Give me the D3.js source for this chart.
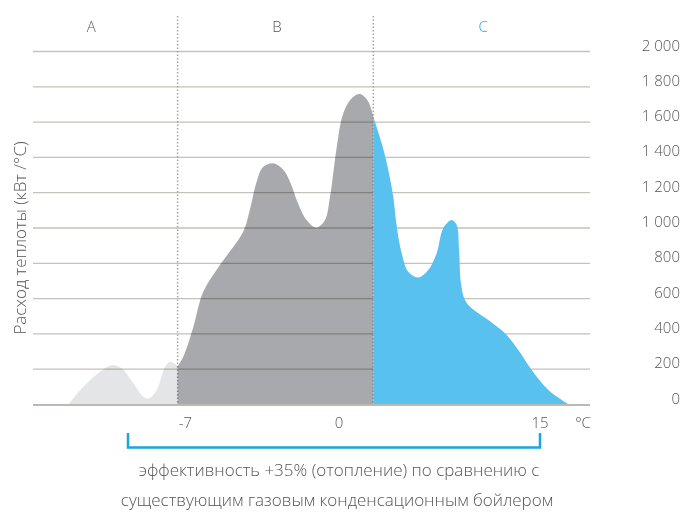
<!DOCTYPE html>
<html>
<head>
<meta charset="utf-8">
<script src="https://cdn.jsdelivr.net/npm/d3@7"></script>
<style>
  body { margin: 0; background: #fff; }
  text { font-family: "Open Sans", "Noto Sans", sans-serif; font-weight: 300; fill: #555; }
</style>
</head>
<body>
<script>
// zone A (light grey), temperature in °C and heat demand
var tempsA = [-12.34, -11.66, -10.90, -10.36, -9.91, -9.38, -8.92, -8.66, -8.31, -7.93, -7.71, -7.48, -7.36];
var loadA  = [0, 101, 186, 224, 205, 120, 44, 35, 82, 214, 242, 229, 218];

// zone B (grey)
var tempsB = [-7.36, -7.10, -6.64, -6.19, -5.43, -4.37, -4.07, -3.76, -3.46, -3.00, -2.54, -2.16, -1.93, -1.48, -1.02, -0.64, -0.41, -0.10, 0.32, 0.95, 1.57, 2.19, 2.56];
var loadB  = [218, 271, 441, 639, 790, 979, 1100, 1260, 1345, 1367, 1330, 1240, 1159, 1045, 1002, 1045, 1177, 1461, 1650, 1735, 1759, 1716, 1631];

// zone C (blue)
var tempsC = [2.56, 3.19, 3.68, 4.05, 4.31, 4.68, 5.17, 5.92, 6.66, 7.29, 7.78, 8.41, 8.78, 8.96, 9.10, 9.40, 9.90, 11.14, 12.39, 13.38, 14.38, 15.62, 17.16];
var loadC  = [1631, 1480, 1329, 1177, 1008, 857, 752, 720, 762, 857, 998, 1045, 1017, 875, 687, 592, 545, 479, 403, 309, 195, 82, 0];

var zoneNames  = ["A", "B", "C"];
var zoneBounds = [-7.36, 2.56];
var xTicks = [-7, 0, 15];
var yTicks = [0, 200, 400, 600, 800, 1000, 1200, 1400, 1600, 1800, 2000];

var width = 683, height = 512;

var svg = d3.select("body")
      .append("svg")
      .attr("width", width)
      .attr("height", height);

// piecewise scale, the picture is not linear in temperature
var x = d3.scaleLinear().domain([-7, 0, 15]).range([185.5, 339, 540]);
var y = d3.scaleLinear().domain([0, 2000]).range([404.5, 51.5]);

// grid
svg.append("g").selectAll("line")
  .data(yTicks.filter(function(d) { return d > 0; }))
  .enter().append("line")
  .attr("x1", 33).attr("x2", 590)
  .attr("y1", function(d) { return y(d); })
  .attr("y2", function(d) { return y(d); })
  .attr("stroke", "#c4c1ba")
  .attr("stroke-width", 1.3);

// dotted zone borders
svg.append("g").selectAll("line")
  .data(zoneBounds)
  .enter().append("line")
  .attr("x1", function(d) { return x(d); })
  .attr("x2", function(d) { return x(d); })
  .attr("y1", 16).attr("y2", y(0))
  .attr("stroke", "#a5a5a5")
  .attr("stroke-width", 1.5)
  .attr("stroke-dasharray", "1.5,2");

var area = d3.area()
  .curve(d3.curveCatmullRom.alpha(0.5))
  .x(function(d) { return x(d[0]); })
  .y0(y(0))
  .y1(function(d) { return y(d[1]); });

svg.append("path")
  .datum(d3.zip(tempsA, loadA))
  .attr("d", area)
  .attr("fill", "#e4e5e6")
  .style("mix-blend-mode", "multiply");

svg.append("path")
  .datum(d3.zip(tempsB, loadB))
  .attr("d", area)
  .attr("fill", "#a8a9ac")
  .style("mix-blend-mode", "multiply");

svg.append("path")
  .datum(d3.zip(tempsC, loadC))
  .attr("d", area)
  .attr("fill", "#59c1ee");

// base line
svg.append("line")
  .attr("x1", 33).attr("x2", 590)
  .attr("y1", y(0) + 0.5).attr("y2", y(0) + 0.5)
  .attr("stroke", "#bdb9b2")
  .attr("stroke-width", 2);

// zone names
var zoneMid = [x(-11.3), x(-2.83), x(10.75)];
svg.append("g").selectAll("text")
  .data(zoneNames)
  .enter().append("text")
  .attr("x", function(d, i) { return zoneMid[i]; })
  .attr("y", 32)
  .attr("text-anchor", "middle")
  .style("font-size", "15px")
  .style("fill", function(d) { return d == "C" ? "#1aa5e0" : "#555"; })
  .text(function(d) { return d; });

// right axis labels
var fmt = function(d) { return d3.format(",")(d).replace(",", " "); };
svg.append("g").selectAll("text")
  .data(yTicks)
  .enter().append("text")
  .attr("x", 680)
  .attr("y", function(d) { return y(d) - 1; })
  .attr("text-anchor", "end")
  .style("font-size", "15px")
  .text(fmt);

// x labels
svg.append("g").selectAll("text")
  .data(xTicks)
  .enter().append("text")
  .attr("x", function(d) { return x(d); })
  .attr("y", 428)
  .attr("text-anchor", "middle")
  .style("font-size", "15px")
  .text(function(d) { return d; });

svg.append("text")
  .attr("x", 583).attr("y", 428)
  .attr("text-anchor", "middle")
  .style("font-size", "15px")
  .text("°C");

// y title
svg.append("text")
  .attr("transform", "translate(26,238) rotate(-90)")
  .attr("text-anchor", "middle")
  .style("font-size", "17px")
  .text("Расход теплоты (кВт /°C)");

// bracket under -7 .. 15
svg.append("path")
  .attr("d", "M" + 128 + ",433 V447.5 H" + x(15) + " V433")
  .attr("fill", "none")
  .attr("stroke", "#1aa5e0")
  .attr("stroke-width", 2.5);

svg.append("text")
  .attr("x", 339).attr("y", 476)
  .attr("text-anchor", "middle")
  .style("font-size", "17px")
  .text("эффективность +35% (отопление) по сравнению с");

svg.append("text")
  .attr("x", 337).attr("y", 506)
  .attr("text-anchor", "middle")
  .style("font-size", "17px")
  .text("существующим газовым конденсационным бойлером");
</script>
</body>
</html>
